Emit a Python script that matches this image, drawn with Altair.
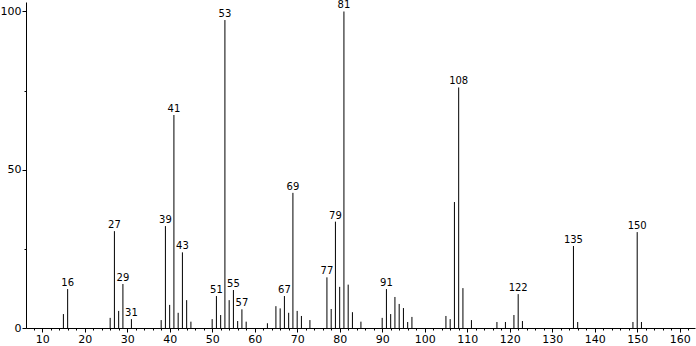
import altair as alt
import pandas as pd

mz = [15, 16, 26, 27, 28, 29, 31, 38, 39, 40, 41, 42, 43, 44, 45, 50, 51, 52, 53, 54,
      55, 56, 57, 58, 63, 65, 66, 67, 68, 69, 70, 71, 73, 77, 78, 79, 80, 81, 82, 83,
      85, 90, 91, 92, 93, 94, 95, 96, 97, 105, 106, 107, 108, 109, 111, 117, 119, 121,
      122, 123, 135, 136, 149, 150, 151]
intensity = [4.4, 12.3, 3.2, 30.6, 5.4, 13.9, 2.8, 2.5, 32.2, 7.3, 67.3, 4.8, 23.9, 8.8, 2.0,
             2.8, 10.1, 4.1, 97.3, 8.8, 12.0, 2.2, 5.9, 2.0, 1.5, 6.9, 6.2, 10.1, 4.8, 42.7,
             5.4, 3.8, 2.5, 16.0, 6.0, 33.6, 13.0, 100.0, 13.7, 5.0, 2.0, 3.2, 12.3, 4.4,
             9.8, 7.6, 6.3, 1.9, 3.5, 3.8, 2.8, 39.8, 76.0, 12.6, 2.5, 1.9, 1.9, 4.1, 10.7,
             2.2, 25.9, 1.9, 1.9, 30.3, 1.9]
labeled = [16, 27, 29, 31, 39, 41, 43, 51, 53, 55, 57, 67, 69, 77, 79, 81, 91, 108, 122, 135, 150]

x_major = list(range(10, 161, 10))
x_minor = list(range(8, 164, 2))
y_major = [0, 50, 100]
y_minor = [25, 75]

df = pd.DataFrame({"mz": mz, "intensity": intensity})
df["label"] = [str(m) if m in labeled else "" for m in mz]

FONT = "DejaVu Sans"
xscale = alt.Scale(domain=[6.2, 163.6], nice=False, zero=False)
yscale = alt.Scale(domain=[0, 103], nice=False)

base = alt.Chart(df)

minor = base.mark_rule(opacity=0).encode(
    x=alt.X("mz:Q", scale=xscale,
            axis=alt.Axis(values=x_minor, title=None, orient="bottom", grid=False,
                          tickSize=2, labels=False, domain=False, tickColor="black")),
    y=alt.Y("intensity:Q", scale=yscale,
            axis=alt.Axis(values=y_minor, title=None, orient="left", grid=False,
                          tickSize=2, labels=False, domain=False, tickColor="black")),
)

bars = base.mark_rule(color="black", strokeWidth=1).encode(
    x=alt.X("mz:Q", scale=xscale,
            axis=alt.Axis(values=x_major, title=None, orient="bottom", grid=False,
                          tickSize=4, labelPadding=1, labelFont=FONT, labelFontSize=11,
                          labelColor="black", domainColor="black", tickColor="black",
                          labelFlush=False)),
    y=alt.Y("intensity:Q", scale=yscale,
            axis=alt.Axis(values=y_major, title=None, orient="left", grid=False,
                          tickSize=4, labelPadding=1, labelFont=FONT, labelFontSize=11,
                          labelColor="black", domainColor="black", tickColor="black",
                          labelFlush=False)),
    y2=alt.datum(0),
)

text = base.transform_filter(alt.datum.label != "").mark_text(
    font=FONT, fontSize=10, color="black", baseline="bottom", dy=-1
).encode(
    x=alt.X("mz:Q", scale=xscale, axis=None),
    y=alt.Y("intensity:Q", scale=yscale, axis=None),
    text="label:N",
)

chart = alt.layer(minor, bars, text).resolve_axis(
    x="independent", y="independent"
).properties(
    width=669, height=326,
    autosize=alt.AutoSizeParams(type="none"),
    padding={"left": 26, "top": 2, "right": 1, "bottom": 18},
    background="white",
).configure_view(stroke=None)

chart.save("out.html", embed_options={"renderer": "svg", "actions": False})
